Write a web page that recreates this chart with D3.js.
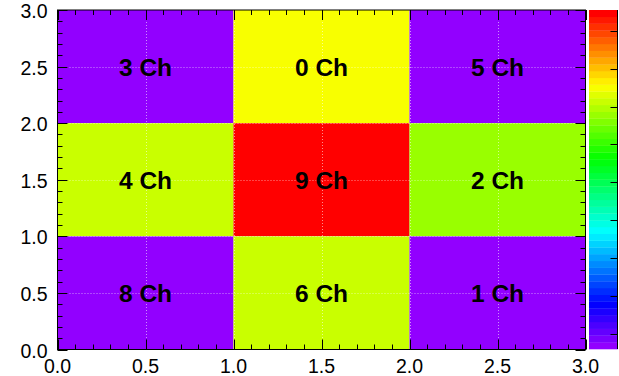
<!DOCTYPE html>
<html>
<head>
<meta charset="utf-8">
<script src="https://cdn.jsdelivr.net/npm/d3@7"></script>
<style>
  body { margin: 0; background: #fff; }
  text { font-family: "Liberation Sans", Arial, sans-serif; }
</style>
</head>
<body>
<div id="chart"></div>
<script>
// cell bins (lower edges) and contents, top row first
const cellX = [0, 1, 2, 0, 1, 2, 0, 1, 2];
const cellY = [2, 2, 2, 1, 1, 1, 0, 0, 0];
const chLabels = ["3 Ch", "0 Ch", "5 Ch", "4 Ch", "9 Ch", "2 Ch", "8 Ch", "6 Ch", "1 Ch"];
const zValues = [0.6, 7.5, 0.6, 7.1, 9.55, 6.8, 0.6, 7.1, 0.6];
const axisTicks = [0, 0.5, 1, 1.5, 2, 2.5, 3];
const zRange = [0.6, 9.55];
const zTicks = [1, 2, 3, 4, 5, 6, 7, 8, 9];
const nColors = 50;

const W = 619, H = 376;
const svg = d3.select("#chart").append("svg").attr("width", W).attr("height", H);

const x = d3.scaleLinear().domain([0, 3]).range([57.5, 585.5]);
const y = d3.scaleLinear().domain([0, 3]).range([349.5, 10]);
const zpos = d3.scaleLinear().domain(zRange).range([0, nColors]);
const zy = d3.scaleLinear().domain(zRange).range([349, 10]);

// rainbow palette violet -> red
const palette = d3.range(nColors).map(i => d3.hsl(280 - (i + 1) * 280 / nColors, 1, 0.5).toString());
const colorOf = z => palette[Math.max(0, Math.min(nColors - 1, Math.floor(zpos(z))))];

const cells = cellX.map((cx, i) => ({x: cx, y: cellY[i], z: zValues[i], label: chLabels[i]}));

svg.append("g").selectAll("rect")
    .data(cells)
  .enter().append("rect")
    .attr("x", d => x(d.x))
    .attr("y", d => y(d.y + 1))
    .attr("width", d => x(d.x + 1) - x(d.x))
    .attr("height", d => y(d.y) - y(d.y + 1))
    .style("fill", d => colorOf(d.z));

// dotted grid
const grid = svg.append("g").attr("class", "grid")
    .style("stroke", "#fff").style("stroke-opacity", 0.55)
    .style("stroke-dasharray", "1,2");
grid.selectAll("line.gx")
    .data(axisTicks.slice(1, -1))
  .enter().append("line")
    .attr("x1", d => Math.round(x(d)) + 0.5).attr("x2", d => Math.round(x(d)) + 0.5)
    .attr("y1", y(3)).attr("y2", y(0));
grid.selectAll("line.gy")
    .data(axisTicks.slice(1, -1))
  .enter().append("line")
    .attr("y1", d => Math.round(y(d)) + 0.5).attr("y2", d => Math.round(y(d)) + 0.5)
    .attr("x1", x(0)).attr("x2", x(3));

// ticks inside frame on all four sides
const minor = d3.range(0, 31).map(i => i / 10);
const isMajor = v => Math.abs(v * 2 - Math.round(v * 2)) < 1e-6;
const tk = svg.append("g").style("stroke", "#000").style("stroke-width", 1);
tk.selectAll("line.b").data(minor).enter().append("line")
    .attr("x1", d => Math.round(x(d)) + 0.5).attr("x2", d => Math.round(x(d)) + 0.5)
    .attr("y1", y(0)).attr("y2", d => y(0) - (isMajor(d) ? 10 : 5));
tk.selectAll("line.t").data(minor).enter().append("line")
    .attr("x1", d => Math.round(x(d)) + 0.5).attr("x2", d => Math.round(x(d)) + 0.5)
    .attr("y1", y(3)).attr("y2", d => y(3) + (isMajor(d) ? 10 : 5));
tk.selectAll("line.l").data(minor).enter().append("line")
    .attr("y1", d => Math.round(y(d)) + 0.5).attr("y2", d => Math.round(y(d)) + 0.5)
    .attr("x1", x(0)).attr("x2", d => x(0) + (isMajor(d) ? 10 : 5));
tk.selectAll("line.r").data(minor).enter().append("line")
    .attr("y1", d => Math.round(y(d)) + 0.5).attr("y2", d => Math.round(y(d)) + 0.5)
    .attr("x1", x(3)).attr("x2", d => x(3) - (isMajor(d) ? 10 : 5));

// frame
svg.append("rect")
    .attr("x", x(0)).attr("y", y(3))
    .attr("width", x(3) - x(0)).attr("height", y(0) - y(3))
    .style("fill", "none").style("stroke", "#000").style("stroke-width", 1);

// tick labels
const fmt = d3.format(".1f");
svg.append("g").selectAll("text")
    .data(axisTicks)
  .enter().append("text")
    .attr("x", 47.5).attr("y", d => y(d) + 8)
    .attr("text-anchor", "end")
    .style("font-size", "19.5px")
    .text(fmt);
svg.append("g").selectAll("text")
    .data(axisTicks)
  .enter().append("text")
    .attr("x", d => x(d)).attr("y", 372.5)
    .attr("text-anchor", "middle")
    .style("font-size", "19.5px")
    .text(fmt);

// cell labels
svg.append("g").selectAll("text")
    .data(cells)
  .enter().append("text")
    .attr("x", d => x(d.x + 0.5))
    .attr("y", d => y(d.y + 0.5) + 9)
    .attr("text-anchor", "middle")
    .style("font-size", "24.5px")
    .style("font-weight", "bold")
    .text(d => d.label);

// colour bar
const cbX = 589, cbW = 29;
const bandH = (zy(zRange[0]) - zy(zRange[1])) / nColors;
svg.append("g").selectAll("rect")
    .data(palette)
  .enter().append("rect")
    .attr("x", cbX)
    .attr("y", (d, i) => zy(zRange[0]) - (i + 1) * bandH)
    .attr("width", cbW)
    .attr("height", bandH + 0.3)
    .style("fill", d => d);
svg.append("line")
    .attr("x1", 617.5).attr("x2", 617.5)
    .attr("y1", zy(zRange[1])).attr("y2", zy(zRange[0]))
    .style("stroke", "#000");
svg.append("g").selectAll("line")
    .data(zTicks)
  .enter().append("line")
    .attr("x1", 617.5).attr("x2", 610.5)
    .attr("y1", d => Math.round(zy(d)) + 0.5).attr("y2", d => Math.round(zy(d)) + 0.5)
    .style("stroke", "#000");
</script>
</body>
</html>
